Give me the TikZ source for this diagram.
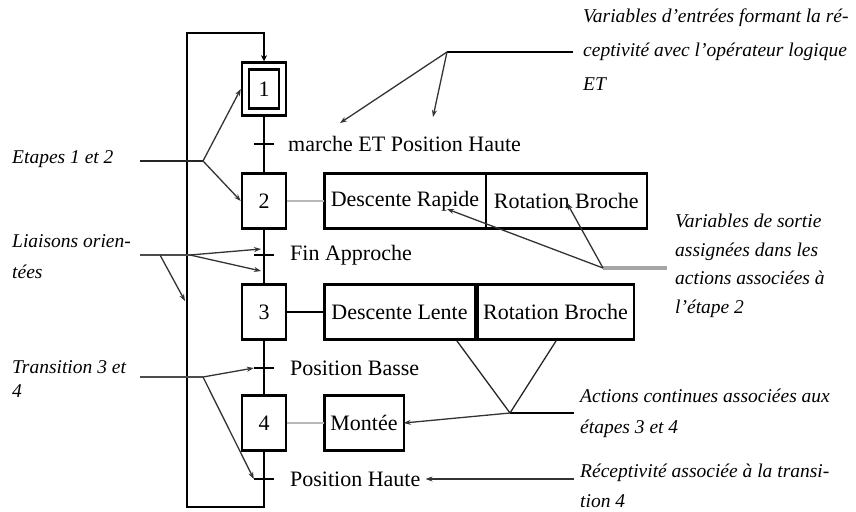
\documentclass[tikz,border=0pt]{standalone}
\usepackage{fontspec}
\setmainfont{Liberation Serif}
\usetikzlibrary{arrows.meta}

\begin{document}
\begin{tikzpicture}[x=1pt,y=-1pt,
  etape/.style={draw, line width=2.5pt, minimum width=44pt, minimum height=55pt, inner sep=0pt, font=\fontsize{22}{26}\selectfont},
  action/.style={draw, line width=2.5pt, minimum height=55pt, inner sep=0pt, outer sep=0pt, anchor=west, font=\fontsize{22}{26}\selectfont},
  transition/.style={fill=black, minimum width=20pt, minimum height=2.5pt, inner sep=0pt},
  recep/.style={anchor=west, inner sep=0pt, font=\fontsize{22}{26}\selectfont},
  lien/.style={line width=2.5pt},
  trait/.style={line width=1.3pt, black!85},
  fleche/.style={line width=1.3pt, black!80, -{Stealth[length=7pt,width=5pt]}},
  remarque/.style={align=left, anchor=north west, inner sep=0pt, font=\fontsize{19.5}{#1}\selectfont\itshape}]

\useasboundingbox (0,0) rectangle (856,511);

% etapes
\node[etape, double, double distance=4.5pt, minimum width=37pt, minimum height=46pt, outer sep=4.75pt] (e1) at (264,89) {1};
\node[etape] (e2) at (264,201) {2};
\node[etape] (e3) at (264,312) {3};
\node[etape] (e4) at (264,423) {4};

% transitions et receptivites
\node[transition] (t1) at (264,144) {};
\node[transition] (t2) at (264,255) {};
\node[transition] (t3) at (264,368) {};
\node[transition] (t4) at (264,479) {};
\node[recep] (r1) at (288,144) {marche ET Position Haute};
\node[recep] (r2) at (290,255) {Fin Approche};
\node[recep] (r3) at (290,368) {Position Basse};
\node[recep] (r4) at (290,479) {Position Haute};

% liaisons
\draw[lien] (e1.south) -- (e2.north);
\draw[lien] (e2.south) -- (e3.north);
\draw[lien] (e3.south) -- (e4.north);
\coordinate (rb) at (187,507);
\coordinate (rh) at (187,33);
\draw[lien, -{Stealth[length=6pt,width=6pt]}] (e4.south) |- (rb) -- (rh) -| (e1.north);

% actions
\node[action, minimum width=161.5pt] (a2d) at (324.25,201) {Descente Rapide};
\node[action, minimum width=161pt] (a2r) at (a2d.east) {Rotation Broche};
\node[action, minimum width=150.5pt] (a3d) at (324.25,312) {Descente Lente};
\node[action, minimum width=156.5pt] (a3r) at ([xshift=2.5pt]a3d.east) {Rotation Broche};
\node[action, minimum width=79.5pt] (a4) at (324.25,423) {Montée};
\draw[line width=2pt, gray!55] (e2.east) -- (a2d.west);
\draw[line width=2.5pt] (e3.east) -- (a3d.west);
\draw[line width=2pt, gray!55] (e4.east) -- (a4.west);

% commentaires a gauche
\node[remarque=24] (nE) at (12,150) {Etapes 1 et 2};
\coordinate (dE) at (140,161);
\coordinate (bE) at (203,161);
\draw[trait] (dE) -- (bE);
\draw[fleche] (bE) -- (e1.west);
\draw[fleche] (bE) -- (e2.west);

\node[remarque=31] (nL) at (12,234) {Liaisons orien-\\tées};
\coordinate (dL) at (140,255);
\coordinate (bL1) at (160,255);
\coordinate (bL2) at (190,255);
\coordinate (cL0) at (185,301);
\coordinate (cL1) at (261,249);
\coordinate (cL2) at (261,271);
\draw[line width=1.8pt, black!70] (dL) -- (bL2);
\draw[fleche] (bL1) -- (cL0);
\draw[fleche] (bL2) -- (cL1);
\draw[fleche] (bL2) -- (cL2);

\node[remarque=24] (nT) at (12,360) {Transition 3 et\\4};
\coordinate (dT) at (140,377);
\coordinate (bT) at (203,377);
\draw[line width=1.8pt, black!70] (dT) -- (bT);
\draw[fleche] (bT) -- (t3.west);
\draw[fleche] (bT) -- (t4.west);

% commentaires a droite
\node[remarque=34] (nA) at (583,9) {Variables d'entrées formant la ré-\\ceptivité avec l'opérateur logique\\ET};
\coordinate (dA) at (573,52);
\coordinate (bA) at (447,52);
\coordinate (cA1) at (340,123);
\coordinate (cA2) at (433,117);
\draw[line width=1.8pt] (dA) -- (bA);
\draw[fleche] (bA) -- (cA1);
\draw[fleche] (bA) -- (cA2);

\node[remarque=28.5] (nB) at (675,214) {Variables de sortie\\assignées dans les\\actions associées à\\l'étape 2};
\coordinate (dB) at (667,268);
\coordinate (bB) at (603,268);
\coordinate (cB1) at (447,209);
\coordinate (cB2) at (567,203);
\draw[line width=3.5pt, gray!70] (dB) -- (bB);
\draw[fleche] (bB) -- (cB1);
\draw[fleche] (bB) -- (cB2);

\node[remarque=31] (nC) at (580,389) {Actions continues associées aux\\étapes 3 et 4};
\coordinate (dC) at (574,413);
\coordinate (bC) at (510,413);
\coordinate (cC1) at (457,341);
\coordinate (cC2) at (556,341);
\draw[line width=1.8pt] (dC) -- (bC);
\draw[trait] (bC) -- (cC1);
\draw[trait] (bC) -- (cC2);
\draw[fleche] (bC) -- (a4.east);

\node[remarque=30] (nD) at (580,464) {Réceptivité associée à la transi-\\tion 4};
\coordinate (dD) at (574,479);
\draw[fleche] (dD) -- ([xshift=5pt]r4.east);

\end{tikzpicture}
\end{document}
